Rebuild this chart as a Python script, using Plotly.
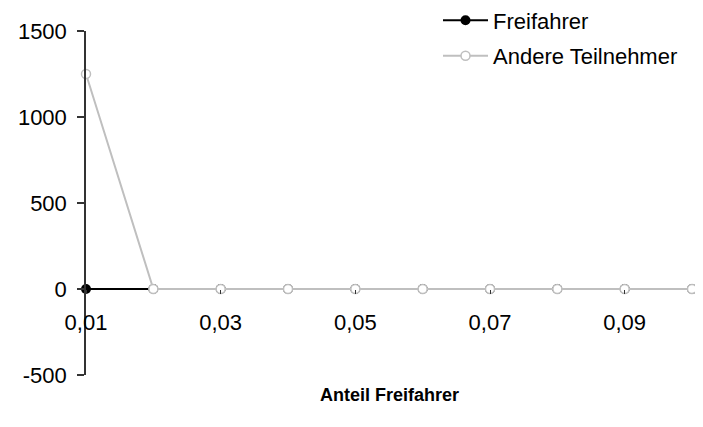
import plotly.graph_objects as go

# Data
anteil = [0.01, 0.02, 0.03, 0.04, 0.05, 0.06, 0.07, 0.08, 0.09, 0.10]
freifahrer = [0, 0, 0, 0, 0, 0, 0, 0, 0, 0]
andere = [1250, 0, 0, 0, 0, 0, 0, 0, 0, 0]
x_tickvals = [0.01, 0.03, 0.05, 0.07, 0.09]
x_ticktext = ["0,01", "0,03", "0,05", "0,07", "0,09"]
y_tickvals = [-500, 0, 500, 1000, 1500]
y_ticktext = ["-500", "0", "500", "1000", "1500"]

FONT = "Liberation Sans, Arial, sans-serif"
GRAY = "#bfbfbf"

# the page body has an 8px default margin, so the figure is sized to fit the window
W, H = 695, 419

fig = go.Figure()
fig.add_trace(go.Scatter(
    x=anteil, y=freifahrer, name="Freifahrer", mode="lines+markers",
    line=dict(color="black", width=2),
    marker=dict(symbol="circle", size=10, color="black"),
    cliponaxis=False, legend="legend",
))
fig.add_trace(go.Scatter(
    x=anteil, y=andere, name="Andere Teilnehmer", mode="lines+markers",
    line=dict(color=GRAY, width=2),
    marker=dict(symbol="circle", size=9, color="white", line=dict(color=GRAY, width=1.5)),
    cliponaxis=False, legend="legend2",
))

fig.update_layout(
    width=W, height=H,
    margin=dict(l=78, r=11, t=23, b=52, autoexpand=False),
    paper_bgcolor="white", plot_bgcolor="white",
    font=dict(family=FONT, size=22, color="black"),
    showlegend=True,
    legend=dict(x=430 / W, y=1 - 12.5 / H, xref="container", yref="container",
                xanchor="left", yanchor="middle", itemwidth=45,
                bgcolor="rgba(0,0,0,0)", font=dict(size=22)),
    legend2=dict(x=430 / W, y=1 - 48 / H, xref="container", yref="container",
                 xanchor="left", yanchor="middle", itemwidth=45,
                 bgcolor="rgba(0,0,0,0)", font=dict(size=22)),
    xaxis=dict(
        range=[0.01, 0.10], anchor="free", position=0.25, automargin=False,
        tickmode="array", tickvals=x_tickvals, ticktext=x_ticktext,
        showgrid=False, zeroline=False, showline=False,
        ticks="outside", ticklen=4, tickcolor="#333", tickwidth=1,
        ticklabelstandoff=10,
    ),
    yaxis=dict(
        range=[-500, 1500], automargin=False,
        tickmode="array", tickvals=y_tickvals, ticktext=y_ticktext,
        showgrid=False, zeroline=False, showline=True, linecolor="#333", linewidth=1.5,
        ticks="outside", ticklen=7, tickcolor="#333", tickwidth=1.5,
        ticklabelstandoff=6,
    ),
    annotations=[dict(
        text="<b>Anteil Freifahrer</b>", xref="paper", yref="paper",
        x=0.5, y=-0.058, xanchor="center", yanchor="middle", showarrow=False,
        font=dict(size=18, family=FONT, color="black"),
    )],
)

fig.write_html("out.html")
